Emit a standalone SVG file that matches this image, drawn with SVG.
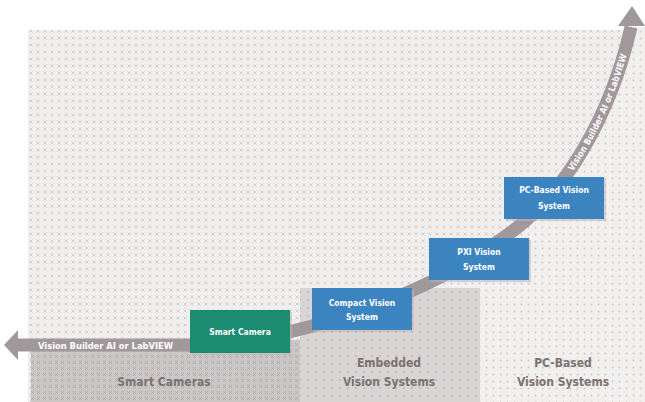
<svg xmlns="http://www.w3.org/2000/svg" width="645" height="402" viewBox="0 0 645 402">
<style>
.box-t{font-family:"DejaVu Sans Condensed","DejaVu Sans","Liberation Sans",sans-serif;font-weight:bold;font-size:8.5px;fill:#ffffff;text-anchor:middle}
.zone-t{font-family:"DejaVu Sans Condensed","DejaVu Sans","Liberation Sans",sans-serif;font-weight:bold;font-size:12px;fill:#7a7272;text-anchor:middle}
.arrow-t{font-family:"DejaVu Sans Condensed","DejaVu Sans","Liberation Sans",sans-serif;font-weight:bold;font-size:9px;fill:#ffffff}
.shadow{fill:#bdb7b7;opacity:0.55}
.blue{fill:#3c84bf}
</style>
<defs>
<pattern id="cross" width="7" height="7" patternUnits="userSpaceOnUse">
<rect width="7" height="7" fill="#f1eeee"/>
<path d="M1.5 1.5 L4.5 4.5 M4.5 1.5 L1.5 4.5" stroke="#d2cccc" stroke-width="0.9"/>
</pattern>
<pattern id="dots" width="7" height="7" patternUnits="userSpaceOnUse">
<rect width="7" height="7" fill="#f2efef"/>
<circle cx="3.5" cy="3.5" r="0.9" fill="#cdc8c8"/>
</pattern>
<pattern id="dotsdark" width="8" height="8" patternUnits="userSpaceOnUse">
<rect width="8" height="8" fill="#d9d5d5"/>
<circle cx="4" cy="4" r="0.9" fill="#bab4b4"/>
</pattern>
<pattern id="crossdark" width="6" height="6" patternUnits="userSpaceOnUse">
<rect width="6" height="6" fill="#ccc7c7"/>
<path d="M1 1 L4 4 M4 1 L1 4" stroke="#b0aaaa" stroke-width="0.9"/>
</pattern>
<path id="upper" d="M 500 240 C 568 196, 612 110, 631 27"/>
</defs>

<g id="background">
<rect x="28" y="30" width="617" height="372" fill="url(#cross)"/>
<path d="M 190 345 C 280 345, 420 300, 500 240 C 568 196, 612 110, 631 27 L 645 27 L 645 402 L 190 402 Z" fill="url(#dots)"/>
<rect x="300" y="288" width="180" height="114" fill="url(#dotsdark)"/>
<rect x="31" y="340" width="269" height="62" fill="url(#crossdark)"/>
</g>

<g id="connectors">
<path d="M 17 345 L 190 345 C 280 345, 420 300, 500 240 C 568 196, 612 110, 631 27" fill="none" stroke="#a0989a" stroke-width="13"/>
<polygon points="4,345 18,330 18,360" fill="#a0989a"/>
<polygon points="618,26 632,6 645,26" fill="#a0989a"/>
<text class="arrow-t" x="38" y="348.5" textLength="135" lengthAdjust="spacingAndGlyphs">Vision Builder AI or LabVIEW</text>
<text class="arrow-t" dy="3"><textPath href="#upper" startOffset="100" textLength="128" lengthAdjust="spacingAndGlyphs">Vision Builder AI or LabVIEW</textPath></text>
</g>

<g id="node-smart-camera">
<rect class="shadow" x="192" y="312" width="100" height="43"/>
<rect x="190" y="310" width="100" height="43" fill="#1b8b72"/>
<text class="box-t" x="240" y="335">Smart Camera</text>
</g>

<g id="node-compact">
<rect class="shadow" x="314" y="290" width="100" height="42"/>
<rect class="blue" x="312" y="288" width="100" height="42"/>
<text class="box-t" x="362" y="306">Compact Vision</text>
<text class="box-t" x="362" y="320">System</text>
</g>

<g id="node-pxi">
<rect class="shadow" x="431" y="240" width="100" height="42"/>
<rect class="blue" x="429" y="238" width="100" height="42"/>
<text class="box-t" x="479" y="255">PXI Vision</text>
<text class="box-t" x="479" y="270">System</text>
</g>

<g id="node-pc">
<rect class="shadow" x="506" y="179" width="100" height="42"/>
<rect class="blue" x="504" y="177" width="100" height="42"/>
<text class="box-t" x="554" y="193">PC-Based Vision</text>
<text class="box-t" x="554" y="209">System</text>
</g>

<g id="zone-labels">
<text class="zone-t" x="164" y="386">Smart Cameras</text>
<text class="zone-t" x="389" y="367">Embedded</text>
<text class="zone-t" x="389" y="386">Vision Systems</text>
<text class="zone-t" x="563" y="367">PC-Based</text>
<text class="zone-t" x="563" y="386">Vision Systems</text>
</g>
</svg>
